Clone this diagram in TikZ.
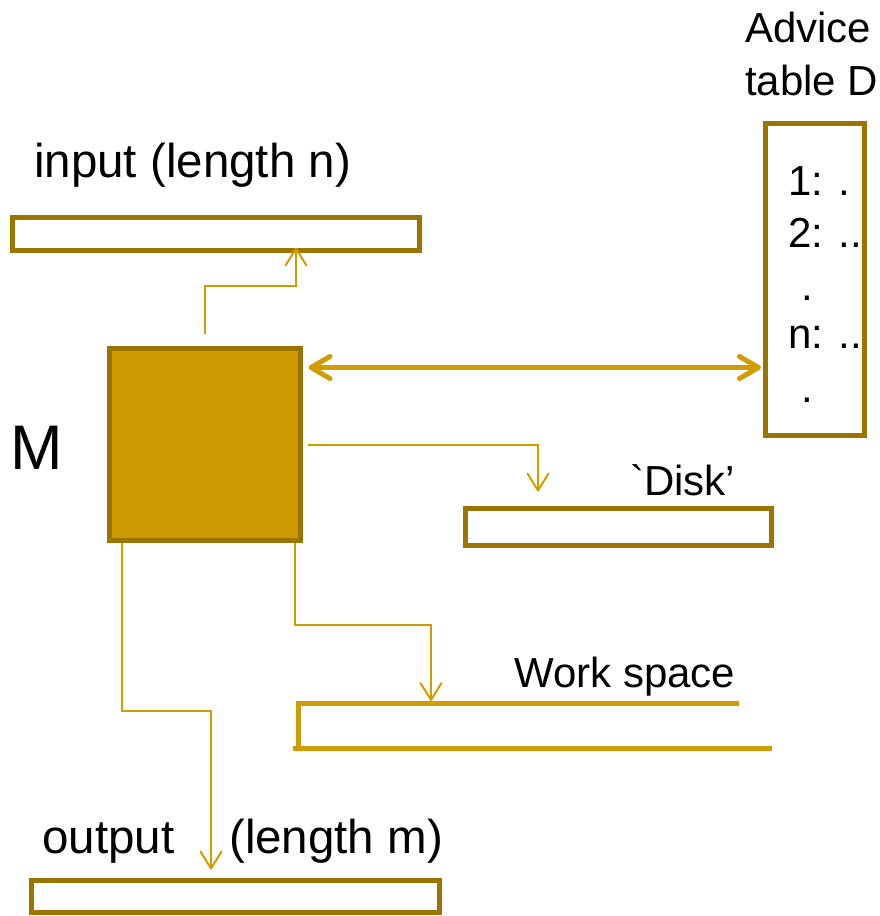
\documentclass[tikz,border=0pt]{standalone}
\usepackage{fontspec}
\setmainfont{Liberation Sans}
\newfontfamily\rawfont{Liberation Sans}
\usetikzlibrary{arrows.meta}
\definecolor{golddark}{RGB}{156,117,0}
\definecolor{goldfill}{RGB}{204,153,0}
\definecolor{goldline}{RGB}{208,157,0}
\tikzset{
  box/.style={draw=golddark, line width=5pt, inner sep=0pt, rectangle},
  thinarrow/.style={draw=goldline, line width=2pt, -{Straight Barb[length=17pt,width=21pt,round]}},
  bigarrow/.style={draw=goldline, line width=5pt, {Straight Barb[length=19pt,width=22pt,round]}-{Straight Barb[length=19pt,width=22pt,round]}},
  wsline/.style={draw=goldline, line width=5pt},
  lbl/.style={anchor=base west, inner sep=0pt, font=\fontsize{47.5}{56}\selectfont},
  slbl/.style={anchor=base west, inner sep=0pt, font=\fontsize{42}{50}\selectfont},
}
\begin{document}
\begin{tikzpicture}[x=1pt,y=-1pt]
\useasboundingbox (0,0) rectangle (880,916);
% boxes
\node[box, minimum width=407pt, minimum height=33pt] (input) at (216,234) {};
\node[box, fill=goldfill, minimum width=191pt, minimum height=192pt] (M) at (205,444.5) {};
\node[box, minimum width=99pt, minimum height=312pt] (table) at (815,279.5) {};
\node[box, minimum width=306pt, minimum height=37pt] (disk) at (618.5,527) {};
\node[box, minimum width=408pt, minimum height=32pt] (output) at (235.5,896.5) {};
% work space (open shape)
\coordinate (wsTL) at (298,703);
\coordinate (wsTR) at (739,703);
\coordinate (wsBL) at (293,748);
\coordinate (wsBR) at (772,748);
\coordinate (wsin) at (431,701);
\draw[wsline] (wsTR) -- (wsTL) -- (wsTL |- wsBL);
\draw[wsline] (wsBL) -- (wsBR);
% labels
\node[lbl] (inlbl) at (34,177) {input (length n)};
\node[lbl] (outlbl) at (42,853) {output};
\node[lbl] (lenm) at (229,853) {(length m)};
\node[anchor=base west, inner sep=0pt, font=\fontsize{63}{70}\selectfont] (mlbl) at (10,469) {M};
\node[slbl] (adv1) at (745,42) {Advice};
\node[slbl] (adv2) at (745,95) {table D};
\node[slbl] (t1) at (788,195) {1: .};
\node[slbl] (t2) at (788,247) {2: ..};
\node[slbl] (t3) at (801,300) {.};
\node[slbl] (t4) at (788,348) {n: ..};
\node[slbl] (t5) at (801,402) {.};
\node[slbl, font=\fontsize{42}{50}\selectfont\rawfont] (disklbl) at (630,495) {`Disk’};
\node[slbl] (wslbl) at (514,687) {Work space};
% connectors
\draw[thinarrow] ([yshift=12pt]M.north) -- ++(0,-48) -| ([xshift=80pt,yshift=5.5pt]input.south);
\draw[bigarrow] ([xshift=5.5pt,yshift=-21.5pt]M.north east) -- ([xshift=-2pt,yshift=-21.5pt]M.north east -| table.west);
\draw[thinarrow] ([xshift=4.5pt]M.east) -| ([xshift=-80.5pt,yshift=14.5pt]disk.north);
\draw[thinarrow] ([xshift=-8.5pt]M.south east) -- ++(0,82) -| (wsin);
\draw[thinarrow] ([xshift=14.5pt]M.south west) -- ++(0,167.5) -| ([xshift=-24.5pt,yshift=8.5pt]output.north);
\end{tikzpicture}
\end{document}
